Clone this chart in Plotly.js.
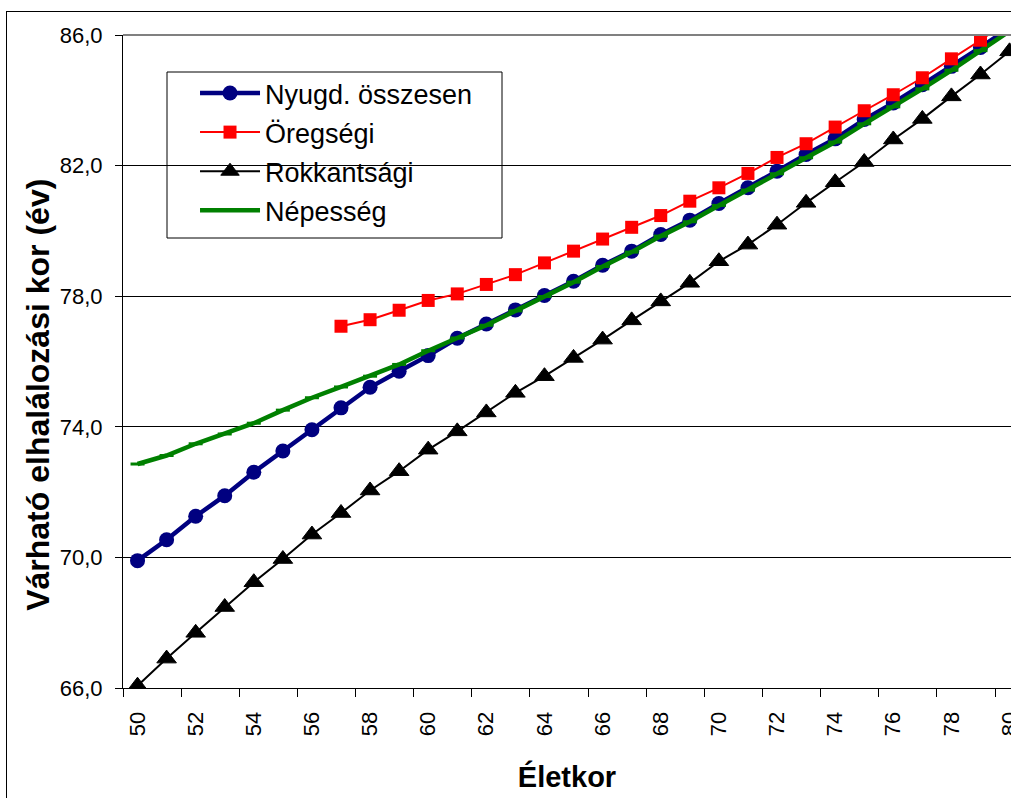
<!DOCTYPE html>
<html>
<head>
<meta charset="utf-8">
<script src="https://cdn.plot.ly/plotly-3.0.1.min.js"></script>
<style>
  html, body { margin: 0; padding: 0; width: 1011px; height: 798px; overflow: hidden; background: #fff; }
  #frame { position: absolute; left: 6px; top: 11px; width: 1200px; height: 1000px; border: 1px solid #000; box-sizing: border-box; }
  #chart { position: absolute; left: 0; top: 0; width: 1011px; height: 798px; }
</style>
</head>
<body>
<div id="frame"></div>
<div id="chart"></div>
<script>
// Ages (category axis)
const ages = [50,51,52,53,54,55,56,57,58,59,60,61,62,63,64,65,66,67,68,69,70,71,72,73,74,75,76,77,78,79,80];

// Nyugd. összesen (all pensioners)
const nyugdOsszesen = [69.90,70.54,71.26,71.89,72.61,73.26,73.91,74.58,75.21,75.70,76.18,76.71,77.15,77.58,78.02,78.46,78.95,79.38,79.89,80.33,80.84,81.32,81.83,82.34,82.82,83.41,83.92,84.48,85.04,85.62,86.22];

// Öregségi (old-age) – starts at age 57
const oregsegiAges = [57,58,59,60,61,62,63,64,65,66,67,68,69,70,71,72,73,74,75,76,77,78,79,80];
const oregsegi = [77.08,77.28,77.57,77.87,78.07,78.36,78.66,79.02,79.38,79.75,80.11,80.47,80.91,81.32,81.76,82.25,82.67,83.18,83.68,84.17,84.69,85.27,85.84,86.45];

// Rokkantsági (disability)
const rokkantsagi = [66.07,66.90,67.69,68.48,69.24,69.95,70.70,71.36,72.05,72.64,73.30,73.86,74.44,75.04,75.55,76.11,76.67,77.26,77.84,78.41,79.07,79.58,80.19,80.86,81.49,82.11,82.80,83.43,84.12,84.79,85.50];

// Népesség (population)
const nepesseg = [72.86,73.12,73.48,73.78,74.11,74.51,74.89,75.22,75.55,75.91,76.33,76.72,77.11,77.55,77.99,78.43,78.91,79.35,79.84,80.28,80.78,81.25,81.75,82.24,82.72,83.28,83.80,84.35,84.92,85.52,86.12];

const xTickVals = ages.filter(a => a % 2 === 0);
const xTickText = xTickVals.map(String);
const yTickVals = [66,70,74,78,82,86];

const FONT = 'Liberation Sans, Arial, Helvetica, sans-serif';

const traces = [
  {
    x: ages, y: rokkantsagi, name: 'Rokkantsági', type: 'scatter', mode: 'lines+markers',
    line: {color: '#000000', width: 2},
    marker: {symbol: 'triangle-up', size: 17, color: '#000000', line: {color: '#000000', width: 1}},
    legendrank: 3, legendgroup: 'g3'
  },
  {
    x: ages, y: nyugdOsszesen, name: 'Nyugd. összesen', type: 'scatter', mode: 'lines+markers',
    line: {color: '#000080', width: 4.5},
    marker: {symbol: 'circle', size: 15, color: '#000080'},
    legendrank: 1, legendgroup: 'g1'
  },
  {
    x: ages, y: nepesseg, name: 'Népesség', type: 'scatter', mode: 'lines+markers',
    line: {color: '#008000', width: 4.5},
    marker: {symbol: 'line-ew', size: 10, color: '#008000', line: {color: '#008000', width: 3}},
    legendrank: 4, legendgroup: 'g4'
  },
  {
    x: oregsegiAges, y: oregsegi, name: 'Öregségi', type: 'scatter', mode: 'lines+markers',
    line: {color: '#FF0000', width: 2},
    marker: {symbol: 'square', size: 13, color: '#FF0000'},
    legendrank: 2, legendgroup: 'g2'
  }
];

const layout = {
  width: 1011, height: 798,
  margin: {l: 123, r: 0, t: 35, b: 110, pad: 0},
  paper_bgcolor: 'rgba(0,0,0,0)',
  plot_bgcolor: '#ffffff',
  separators: ', ',
  font: {family: FONT, color: '#000000', size: 22},
  showlegend: true,
  legend: {
    x: 0.0811, y: 0.948, xanchor: 'left', yanchor: 'top',
    bgcolor: 'rgba(0,0,0,0)', borderwidth: 0,
    font: {family: FONT, size: 27, color: '#000000'},
    itemwidth: 60, tracegroupgap: 1, traceorder: 'grouped'
  },
  xaxis: {
    range: [49.5, 80.05],
    tickmode: 'array', tickvals: xTickVals, ticktext: xTickText,
    tickangle: -90, ticks: '', showgrid: false, zeroline: false,
    showline: true, linecolor: '#000000', linewidth: 1,
    tickfont: {family: FONT, size: 22, color: '#000000'},
    ticklabelstandoff: 14, ticklabeloverflow: 'allow',
    minor: {tickmode: 'linear', tick0: 49.5, dtick: 2, ticks: 'outside', ticklen: 8, tickcolor: '#000000', tickwidth: 1, showgrid: false},
    title: {text: 'Életkor', font: {family: FONT, size: 29, weight: 'bold', color: '#000000'}, standoff: 31},
    fixedrange: true
  },
  yaxis: {
    range: [66, 86],
    tickmode: 'array', tickvals: yTickVals, tickformat: '.1f',
    ticks: 'outside', ticklen: 7, tickcolor: '#000000',
    showgrid: true, gridcolor: '#000000', gridwidth: 1, zeroline: false,
    showline: true, linecolor: '#000000', linewidth: 1,
    tickfont: {family: FONT, size: 22, color: '#000000'},
    ticklabelstandoff: 8,
    fixedrange: true
  },
  shapes: [
    {type: 'line', xref: 'paper', yref: 'paper', x0: 0, x1: 1, y0: 1, y1: 1, line: {color: '#808080', width: 2}},
    {type: 'rect', xref: 'paper', yref: 'paper', layer: 'between',
     x0: (167 - 123) / 888, x1: (502 - 123) / 888, y0: (688 - 238) / 653, y1: (688 - 72) / 653,
     fillcolor: '#ffffff', line: {color: '#000000', width: 1}}
  ],
  annotations: [
    {
      text: 'Várható elhalálozási kor (év)', textangle: -90,
      xref: 'paper', yref: 'paper', x: -0.0957, y: 0.449, xanchor: 'center', yanchor: 'middle',
      showarrow: false, font: {family: FONT, size: 32, weight: 'bold', color: '#000000'}
    }
  ]
};

Plotly.newPlot('chart', traces, layout, {displayModeBar: false, staticPlot: true});
</script>
</body>
</html>
